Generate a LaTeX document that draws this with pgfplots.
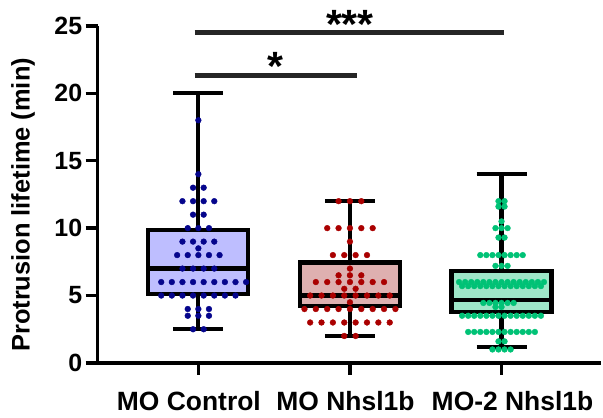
\documentclass[border=0pt]{standalone}
\usepackage{fontspec}
\setmainfont{Liberation Sans}
\usepackage{pgfplots}
\pgfplotsset{compat=1.18}
\usepgfplotslibrary{statistics}
\definecolor{ctrlfill}{RGB}{190,190,255}
\definecolor{ctrldot}{RGB}{5,5,140}
\definecolor{nhfill}{RGB}{222,176,176}
\definecolor{nhdot}{RGB}{170,0,0}
\definecolor{mofill}{RGB}{158,230,200}
\definecolor{modot}{RGB}{0,194,118}
\begin{document}
\begin{tikzpicture}
\begin{axis}[
  width=505pt, height=338pt, scale only axis,
  xmin=-0.664, xmax=2.658, ymin=0, ymax=25,
  axis lines=left, axis line style={-, line width=3.5pt},
  xtick={0,1,2}, xticklabels={\hspace*{-19pt}MO Control, \hspace*{-9pt}MO Nhsl1b, \hspace*{22pt}MO-2 Nhsl1b},
  ytick={0,5,10,15,20,25},
  tick align=outside, major tick length=12pt,
  tick style={line width=3.5pt, black},
  ticklabel style={font=\fontsize{25}{30}\selectfont\bfseries},
  xticklabel style={font=\fontsize{26.5}{30}\selectfont\bfseries, yshift=-12.5pt},
  /pgf/number format/assume math mode=true,
  every axis y label/.style={at={(axis description cs:-0.1485,0.469)}, rotate=90, anchor=center},
  ylabel={Protrusion lifetime (min)},
  ylabel style={font=\fontsize{25.5}{30}\selectfont\bfseries},
  clip=false,
  boxplot/draw direction=y,
  boxplot/box extend=0.66,
  boxplot/whisker extend=0.33,
]
% fills
\addplot[boxplot prepared={draw position=0, lower whisker=2.5, lower quartile=5.125, median=7, upper quartile=9.875, upper whisker=20}, boxplot/draw direction=y, fill=ctrlfill, draw=none] coordinates {};
\addplot[boxplot prepared={draw position=1, lower whisker=2, lower quartile=4.25, median=5, upper quartile=7.45, upper whisker=12}, boxplot/draw direction=y, fill=nhfill, draw=none] coordinates {};
\addplot[boxplot prepared={draw position=2, lower whisker=1.2, lower quartile=3.75, median=4.65, upper quartile=6.85, upper whisker=14}, boxplot/draw direction=y, fill=mofill, draw=none] coordinates {};
% dots
\addplot[only marks, mark=*, mark size=2.9pt, color=ctrldot] coordinates {
(0,18) (0,14) (-0.035,13) (0.035,13)
(-0.105,12) (-0.035,12) (0.035,12) (0.105,12)
(-0.035,11) (0.035,11)
(-0.07,10) (0,10) (0.07,10)
(-0.105,9) (-0.035,9) (0.035,9) (0.105,9)
(0,8.5)
(-0.14,8) (-0.07,8) (0,8) (0.07,8) (0.14,8)
(-0.105,7) (-0.035,7) (0.035,7) (0.105,7)
(-0.245,6) (-0.175,6) (-0.105,6) (-0.035,6) (0.035,6) (0.105,6) (0.175,6) (0.245,6) (0.315,6)
(-0.245,5) (-0.175,5) (-0.105,5) (-0.035,5) (0.035,5) (0.105,5) (0.175,5) (0.245,5)
(-0.07,4) (0,4) (0.07,4)
(-0.07,3.5) (0,3.5) (0.07,3.5)
(-0.035,2.5) (0.035,2.5)
};
\addplot[only marks, mark=*, mark size=2.9pt, color=nhdot] coordinates {
(0.925,12) (1,12) (1.075,12)
(0.85,10) (0.925,10) (1,10) (1.075,10) (1.15,10)
(1,9)
(0.8875,8) (0.9625,8) (1.0375,8) (1.1125,8)
(1,7)
(0.925,6.5) (1,6.5) (1.075,6.5)
(0.775,6) (0.85,6) (0.925,6) (1,6) (1.075,6) (1.15,6) (1.225,6)
(0.9625,5.5) (1.0375,5.5)
(0.7375,5) (0.8125,5) (0.8875,5) (0.9625,5) (1.0375,5) (1.1125,5) (1.1875,5) (1.2625,5)
(1,4.5)
(0.7,4) (0.775,4) (0.85,4) (0.925,4) (1,4) (1.075,4) (1.15,4) (1.225,4) (1.3,4)
(0.7375,3) (0.8125,3) (0.8875,3) (0.9625,3) (1.0375,3) (1.1125,3) (1.1875,3) (1.2625,3)
(0.9625,2) (1.0375,2)
};
\addplot[only marks, mark=*, mark size=2.9pt, color=modot] coordinates {
(1.98,12) (2.02,12) (1.98,11.6) (2.02,11.6)
(2,10.5)
(1.96,10) (2,10) (2.04,10)
(1.98,9.3) (2.02,9.3)
(1.86,8) (1.90,8) (1.94,8) (1.98,8) (2.02,8) (2.06,8) (2.10,8) (2.14,8)
(1.96,7.2) (2,7.2) (2.04,7.2)
(1.72,6.0) (1.76,6.0) (1.80,6.0) (1.84,6.0) (1.88,6.0) (1.92,6.0) (1.96,6.0) (2.00,6.0)
(2.04,6.0) (2.08,6.0) (2.12,6.0) (2.16,6.0) (2.20,6.0) (2.24,6.0) (2.28,6.0)
(1.74,5.7) (1.78,5.7) (1.82,5.7) (1.86,5.7) (1.90,5.7) (1.94,5.7) (1.98,5.7)
(2.02,5.7) (2.06,5.7) (2.10,5.7) (2.14,5.7) (2.18,5.7) (2.22,5.7) (2.26,5.7)
(1.88,4.45) (1.92,4.45) (1.96,4.45) (2.00,4.45) (2.04,4.45) (2.08,4.45)
(1.96,4.15) (2.00,4.15)
(1.74,3.5) (1.78,3.5) (1.82,3.5) (1.86,3.5) (1.90,3.5) (1.94,3.5) (1.98,3.5)
(2.02,3.5) (2.06,3.5) (2.10,3.5) (2.14,3.5) (2.18,3.5) (2.22,3.5) (2.26,3.5)
(1.78,2.3) (1.82,2.3) (1.86,2.3) (1.90,2.3) (1.94,2.3) (1.98,2.3)
(2.02,2.3) (2.06,2.3) (2.10,2.3) (2.14,2.3) (2.18,2.3) (2.22,2.3)
(1.98,1.6) (2.02,1.6)
(1.94,1.0) (1.98,1.0) (2.02,1.0) (2.06,1.0)
};
% outlines
\addplot[boxplot prepared={draw position=0, lower whisker=2.5, lower quartile=5.125, median=7, upper quartile=9.875, upper whisker=20}, boxplot/draw direction=y, fill=none, draw=black, line width=4.2pt] coordinates {};
\addplot[boxplot prepared={draw position=1, lower whisker=2, lower quartile=4.25, median=5, upper quartile=7.45, upper whisker=12}, boxplot/draw direction=y, fill=none, draw=black, line width=4.2pt] coordinates {};
\addplot[boxplot prepared={draw position=2, lower whisker=1.2, lower quartile=3.75, median=4.65, upper quartile=6.85, upper whisker=14}, boxplot/draw direction=y, fill=none, draw=black, line width=4.2pt] coordinates {};
% significance
\draw[line width=4.7pt, black!85] (axis cs:-0.025,24.5) -- (axis cs:2.015,24.5);
\draw[line width=4.7pt, black!85] (axis cs:-0.025,21.3) -- (axis cs:1.045,21.3);
\node[anchor=base, inner sep=0pt, font=\fontsize{41}{41}\selectfont\bfseries] at (axis cs:1,24.1) {***};
\node[anchor=base, inner sep=0pt, font=\fontsize{41}{41}\selectfont\bfseries] at (axis cs:0.51,20.95) {*};
\end{axis}
\path (-98pt,-55pt) rectangle (505pt,364pt);
\end{tikzpicture}
\end{document}
